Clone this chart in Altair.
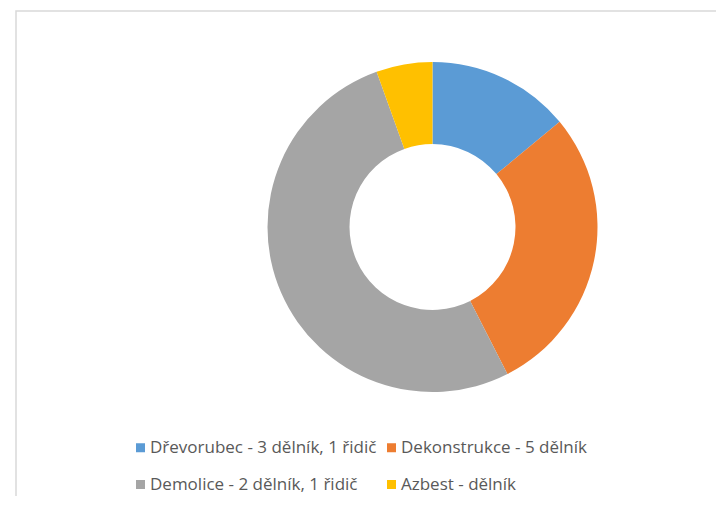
import altair as alt
import pandas as pd

categories = [
    "Dřevorubec - 3 dělník, 1 řidič",
    "Dekonstrukce - 5 dělník",
    "Demolice - 2 dělník, 1 řidič",
    "Azbest - dělník",
]
values = [14, 28.5, 52, 5.5]
colors = ["#5B9BD5", "#ED7D31", "#A5A5A5", "#FFC000"]
order = [0, 1, 2, 3]

df = pd.DataFrame({"kategorie": categories, "hodnota": values, "poradi": order})

frame = alt.Chart(pd.DataFrame({"a": [0]})).mark_rect(
    fillOpacity=0, stroke="#d9d9d9", strokeWidth=1.5
).encode(
    x=alt.value(8), y=alt.value(3), x2=alt.value(1200), y2=alt.value(1200)
)

donut = alt.Chart(df).mark_arc(innerRadius=83, outerRadius=165).encode(
    theta=alt.Theta("hodnota:Q", stack=True),
    color=alt.Color(
        "kategorie:N",
        scale=alt.Scale(domain=categories, range=colors),
        sort=categories,
        legend=alt.Legend(
            title=None,
            orient="none",
            direction="horizontal",
            legendX=124,
            legendY=431,
            columns=2,
            symbolType="square",
            symbolSize=81,
            symbolStrokeWidth=0,
            labelFontSize=17,
            labelFont="Open Sans",
            labelColor="#595959",
            labelLimit=400,
            columnPadding=6,
            rowPadding=19,
            labelOffset=1,
        ),
    ),
    order=alt.Order("poradi:Q"),
    x=alt.value(424.5),
    y=alt.value(219),
)

chart = alt.layer(frame, donut).properties(
    width=708,
    height=488,
    padding=0,
    autosize=alt.AutoSizeParams(type="none"),
).configure_view(stroke=None)

chart.save("out.html", embed_options={"renderer": "svg", "actions": False})
